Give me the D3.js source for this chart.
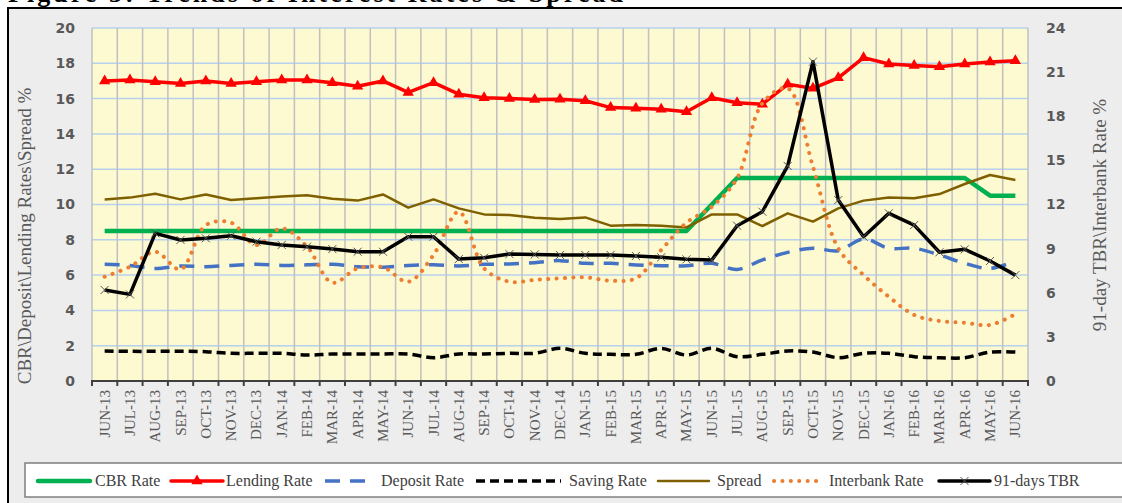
<!DOCTYPE html>
<html>
<head>
<meta charset="utf-8">
<script src="https://cdn.jsdelivr.net/npm/d3@7"></script>
<style>
  body { margin: 0; background: #fff; }
  svg { display: block; }
</style>
</head>
<body>
<svg width="1122" height="503"></svg>
<script>
var months = ["JUN-13","JUL-13","AUG-13","SEP-13","OCT-13","NOV-13","DEC-13",
  "JAN-14","FEB-14","MAR-14","APR-14","MAY-14","JUN-14","JUL-14","AUG-14","SEP-14","OCT-14","NOV-14","DEC-14",
  "JAN-15","FEB-15","MAR-15","APR-15","MAY-15","JUN-15","JUL-15","AUG-15","SEP-15","OCT-15","NOV-15","DEC-15",
  "JAN-16","FEB-16","MAR-16","APR-16","MAY-16","JUN-16"];

// left axis series
var cbrRate = [8.5,8.5,8.5,8.5,8.5,8.5,8.5,8.5,8.5,8.5,8.5,8.5,8.5,8.5,8.5,8.5,8.5,8.5,8.5,
  8.5,8.5,8.5,8.5,8.5,10,11.5,11.5,11.5,11.5,11.5,11.5,11.5,11.5,11.5,11.5,10.5,10.5];
var lendingRate = [17.0,17.05,16.95,16.85,17.0,16.85,16.95,17.05,17.05,16.9,16.7,17.0,16.35,16.9,16.25,16.05,16.0,15.95,15.96,
  15.88,15.49,15.45,15.39,15.26,16.05,15.77,15.68,16.81,16.58,17.18,18.32,17.96,17.87,17.81,17.96,18.07,18.15];
var depositRate = [6.61,6.55,6.38,6.52,6.48,6.55,6.61,6.55,6.58,6.61,6.48,6.45,6.55,6.58,6.52,6.61,6.63,6.7,6.82,
  6.67,6.67,6.57,6.53,6.53,6.67,6.32,6.86,7.29,7.52,7.38,8.05,7.52,7.52,7.14,6.67,6.38,6.8];
var savingRate = [1.7,1.68,1.68,1.69,1.66,1.57,1.57,1.57,1.47,1.53,1.53,1.53,1.53,1.32,1.53,1.53,1.57,1.57,1.85,
  1.57,1.51,1.51,1.85,1.47,1.85,1.38,1.51,1.7,1.64,1.32,1.57,1.57,1.38,1.32,1.32,1.64,1.64];
var spread = [10.29,10.39,10.61,10.29,10.57,10.25,10.35,10.46,10.52,10.33,10.22,10.57,9.82,10.29,9.78,9.44,9.4,9.25,9.18,
  9.27,8.8,8.84,8.8,8.7,9.44,9.44,8.78,9.5,9.03,9.78,10.22,10.39,10.35,10.59,11.16,11.67,11.39];

// right axis series
var interbankRate = [7.09,7.77,8.79,7.59,10.6,10.76,9.24,10.38,9.13,6.68,7.66,7.73,6.75,8.57,11.51,7.66,6.75,6.87,6.98,
  7.05,6.82,6.98,8.9,10.76,11.85,13.78,18.88,19.9,14.57,9.02,7.2,5.73,4.49,4.08,3.96,3.81,4.55];
var tbr91 = [6.19,5.89,10.04,9.59,9.7,9.88,9.47,9.25,9.13,8.97,8.79,8.79,9.81,9.81,8.29,8.38,8.63,8.6,8.57,
  8.57,8.57,8.5,8.41,8.27,8.23,10.56,11.51,14.62,21.71,12.3,9.81,11.4,10.6,8.75,8.95,8.16,7.2];

var leftTicks = [0,2,4,6,8,10,12,14,16,18,20];
var rightTicks = [0,3,6,9,12,15,18,21,24];

var svg = d3.select("svg");
var plot = {left: 92, right: 1028, top: 28, bottom: 381};

// frame + cut-off title
svg.append("text")
    .attr("x", 8).attr("y", 2)
    .attr("textLength", 615)
    .style("font-family", "'Liberation Serif', serif")
    .style("font-weight", "bold")
    .style("font-size", "26px")
    .text("Figure 3: Trends of Interest Rates & Spread");

svg.append("rect")
    .attr("x", 8).attr("y", 8)
    .attr("width", 1122).attr("height", 503)
    .style("fill", "#ededed")
    .style("stroke", "#000")
    .style("stroke-width", 2);

var x = d3.scaleBand().domain(months).range([plot.left, plot.right]).padding(0);
var cx = function(d, i) { return x(months[i]) + x.bandwidth() / 2; };
var yL = d3.scaleLinear().domain([0, 20]).range([plot.bottom, plot.top]);
var yR = d3.scaleLinear().domain([0, 24]).range([plot.bottom, plot.top]);

svg.append("rect")
    .attr("x", plot.left).attr("y", plot.top)
    .attr("width", plot.right - plot.left).attr("height", plot.bottom - plot.top)
    .style("fill", "#fdf9d0");

// gridlines
svg.append("g").selectAll("line")
    .data(leftTicks.slice(1))
    .enter().append("line")
    .attr("x1", plot.left).attr("x2", plot.right)
    .attr("y1", function(d) { return yL(d); })
    .attr("y2", function(d) { return yL(d); })
    .style("stroke", "#b7d0ee")
    .style("stroke-width", 1.5);

var bounds = months.map(function(m) { return x(m); }).concat([plot.right]);
svg.append("g").selectAll("line")
    .data(bounds)
    .enter().append("line")
    .attr("x1", function(d) { return d; }).attr("x2", function(d) { return d; })
    .attr("y1", plot.top).attr("y2", plot.bottom)
    .style("stroke", "#c0c0c0")
    .style("stroke-width", 1.5);

// axes
var tickFont = "'DejaVu Sans', Verdana, sans-serif";
var leftAxis = svg.append("g")
    .attr("transform", "translate(" + plot.left + ",0)")
    .call(d3.axisLeft(yL).tickValues(leftTicks).tickSize(0).tickPadding(17));
var rightAxis = svg.append("g")
    .attr("transform", "translate(" + plot.right + ",0)")
    .call(d3.axisRight(yR).tickValues(rightTicks).tickSize(0).tickPadding(18));
[leftAxis, rightAxis].forEach(function(a) {
  a.select(".domain").remove();
  a.selectAll("text")
    .style("font-family", tickFont)
    .style("font-weight", "bold")
    .style("font-size", "14px")
    .style("fill", "#595959");
});

svg.append("line")
    .attr("x1", plot.left - 1).attr("x2", plot.right + 1)
    .attr("y1", plot.bottom).attr("y2", plot.bottom)
    .style("stroke", "#404040").style("stroke-width", 2);
svg.append("g").selectAll("line")
    .data(bounds)
    .enter().append("line")
    .attr("x1", function(d) { return d; }).attr("x2", function(d) { return d; })
    .attr("y1", plot.bottom).attr("y2", plot.bottom + 5)
    .style("stroke", "#404040").style("stroke-width", 2);

svg.append("g").selectAll("text")
    .data(months)
    .enter().append("text")
    .attr("transform", function(d, i) { return "translate(" + (cx(d, i) + 5) + "," + (plot.bottom + 9) + ") rotate(-90)"; })
    .attr("text-anchor", "end")
    .style("font-family", "'Liberation Serif', serif")
    .style("font-size", "15px")
    .style("fill", "#595959")
    .text(function(d) { return d; });

// axis titles
svg.append("text")
    .attr("transform", "translate(31,236) rotate(-90)")
    .attr("text-anchor", "middle")
    .style("font-family", "'Liberation Serif', serif")
    .style("font-size", "19px")
    .style("fill", "#595959")
    .text("CBR\\Deposit\\Lending Rates\\Spread %");
svg.append("text")
    .attr("transform", "translate(1106,215) rotate(-90)")
    .attr("text-anchor", "middle")
    .style("font-family", "'Liberation Serif', serif")
    .style("font-size", "19px")
    .style("fill", "#595959")
    .text("91-day TBR\\Interbank Rate %");

// series
var series = [
  {name: "CBR Rate", data: cbrRate, y: yL, color: "#00b050", width: 4.5, dash: null, curve: d3.curveLinear},
  {name: "Lending Rate", data: lendingRate, y: yL, color: "#ff0000", width: 3.5, dash: null, curve: d3.curveLinear, marker: "tri"},
  {name: "Deposit Rate", data: depositRate, y: yL, color: "#4472c4", width: 3.5, dash: "15,10", curve: d3.curveCatmullRom},
  {name: "Saving Rate", data: savingRate, y: yL, color: "#000000", width: 3.5, dash: "9,5", curve: d3.curveCatmullRom},
  {name: "Spread", data: spread, y: yL, color: "#7f6000", width: 2.5, dash: null, curve: d3.curveLinear},
  {name: "Interbank Rate", data: interbankRate, y: yR, color: "#ed7d31", width: 4, dash: "0.1,8.3", cap: "round", curve: d3.curveCatmullRom},
  {name: "91-days TBR", data: tbr91, y: yR, color: "#000000", width: 3.5, dash: null, curve: d3.curveLinear, marker: "x"}
];

var tri = d3.symbol().type(d3.symbolTriangle).size(55);

function drawMarker(g, kind, px, py) {
  if (kind === "tri") {
    g.append("path").attr("d", tri())
      .attr("transform", "translate(" + px + "," + py + ")")
      .style("fill", "#ff0000");
  } else if (kind === "x") {
    g.append("path")
      .attr("d", "M" + (px - 4) + "," + (py - 4) + "L" + (px + 4) + "," + (py + 4) +
                 "M" + (px - 4) + "," + (py + 4) + "L" + (px + 4) + "," + (py - 4))
      .style("stroke", "#555").style("stroke-width", 1).style("fill", "none");
  }
}

series.forEach(function(s) {
  var line = d3.line()
      .x(function(d, i) { return cx(d, i); })
      .y(function(d) { return s.y(d); })
      .curve(s.curve);
  svg.append("path")
      .datum(s.data)
      .attr("d", line)
      .style("fill", "none")
      .style("stroke", s.color)
      .style("stroke-width", s.width)
      .style("stroke-dasharray", s.dash)
      .style("stroke-linecap", s.cap || "butt")
      .style("stroke-linejoin", "round");
  if (s.marker) {
    var g = svg.append("g");
    s.data.forEach(function(d, i) { drawMarker(g, s.marker, cx(d, i), s.y(d)); });
  }
});

// legend
svg.append("rect")
    .attr("x", 25).attr("y", 463)
    .attr("width", 1110).attr("height", 34)
    .style("fill", "#fff")
    .style("stroke", "#7f7f7f")
    .style("stroke-width", 1.5);

var legendPos = [
  {x1: 38, x2: 90, tx: 95},
  {x1: 171, x2: 223, tx: 226},
  {x1: 325, x2: 366, tx: 381},
  {x1: 476, x2: 561, tx: 569},
  {x1: 658, x2: 709, tx: 717},
  {x1: 774, x2: 823, tx: 829},
  {x1: 939, x2: 990, tx: 994}
];
var ly = 481;
series.forEach(function(s, i) {
  var p = legendPos[i];
  svg.append("line")
      .attr("x1", p.x1).attr("x2", p.x2)
      .attr("y1", ly).attr("y2", ly)
      .style("stroke", s.color)
      .style("stroke-width", s.width)
      .style("stroke-dasharray", s.dash)
      .style("stroke-linecap", s.cap || (s.dash ? "butt" : "round"));
  if (s.marker) drawMarker(svg, s.marker, (p.x1 + p.x2) / 2, ly);
  svg.append("text")
      .attr("x", p.tx).attr("y", ly + 5)
      .style("font-family", "'Liberation Serif', serif")
      .style("font-size", "16px")
      .style("fill", "#404040")
      .text(s.name);
});
</script>
</body>
</html>
